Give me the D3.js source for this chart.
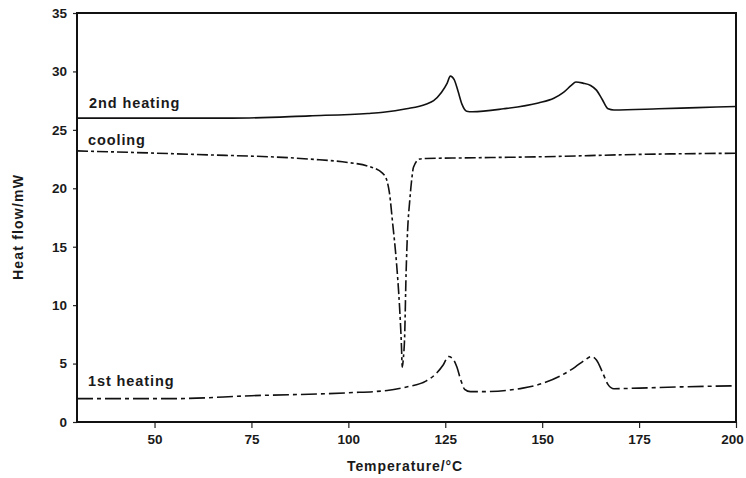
<!DOCTYPE html>
<html><head><meta charset="utf-8">
<script src="https://cdn.jsdelivr.net/npm/d3@7"></script>
<style>body{margin:0;background:#fff}svg{display:block}</style>
</head><body><svg id="c" width="746" height="478"></svg>
<script>
const xTicks = [50, 75, 100, 125, 150, 175, 200];
const yTicks = [0, 5, 10, 15, 20, 25, 30, 35];
const seriesNames = ["2nd heating", "cooling", "1st heating"];
const heat2T = [30,70,90,105,109,115,120,122,124,125.5,126.3,127.3,128.3,129.3,130.5,132,140,149,153,155.5,157.5,158.7,160.5,162.5,164,165.5,167,168.5,180,190,200];
const heat2V = [26.0,26.0,26.2,26.4,26.5,26.8,27.2,27.5,28.2,29.0,29.6,29.3,28.3,27.2,26.6,26.55,26.8,27.3,27.7,28.2,28.8,29.1,29.0,28.8,28.4,27.6,26.8,26.7,26.8,26.9,27.0];
const coolT = [30,60,90,100,105,108.8,110,110.6,111.4,112.4,113.2,113.7,113.9,114.2,114.5,114.9,115.3,115.8,116.3,116.8,118.4,120,130,150,175,200];
const coolV = [23.2,22.9,22.5,22.2,21.9,21.3,20.6,19.6,17.1,13.7,9.9,6.5,4.7,5.5,7.1,12.8,16.5,18.8,20.6,21.8,22.5,22.55,22.6,22.7,22.9,23.0];
const heat1T = [30,55,75,100,110,115,120,122.5,124.5,125.8,127,128,129,130,131.5,135,145,150,155,158.5,161,162.7,164,165.5,167,168.5,175,185,200];
const heat1V = [2.0,2.0,2.25,2.5,2.7,3.0,3.5,4.1,4.9,5.6,5.4,4.7,3.6,2.8,2.6,2.6,2.9,3.3,4.0,4.7,5.3,5.6,5.3,4.3,3.2,2.85,2.9,3.0,3.1];

const svg = d3.select("#c");
const L = 77, R = 736, T = 13, B = 422;
const x = d3.scaleLinear().domain([30, 200]).range([L, R]);
const y = d3.scaleLinear().domain([0, 35]).range([B, T]);
const font = "Arial, 'Liberation Sans', sans-serif";

// axes
const xAxis = svg.append("g").attr("transform", `translate(0,${B})`)
  .call(d3.axisBottom(x).tickValues(xTicks).tickSize(6).tickPadding(6));
const yAxis = svg.append("g").attr("transform", `translate(${L},0)`)
  .call(d3.axisLeft(y).tickValues(yTicks).tickSize(4).tickPadding(6));
[xAxis, yAxis].forEach(g => {
  g.select(".domain").remove();
  g.selectAll("line").attr("stroke", "#222").attr("stroke-width", 1.2);
  g.selectAll("text").attr("font-family", font).attr("font-size", 13.5)
    .attr("fill", "#1a1a1a").attr("font-weight", "bold");
});
xAxis.selectAll(".tick text").filter(d => d === 200).attr("dx", -4);

// frame
svg.append("rect").attr("x", L).attr("y", T).attr("width", R - L).attr("height", B - T)
  .attr("fill", "none").attr("stroke", "#111").attr("stroke-width", 2);

const line = d3.line().x(d => x(d[0])).y(d => y(d[1])).curve(d3.curveMonotoneX);
const series = [
  {pts: d3.zip(heat2T, heat2V), dash: null},
  {pts: d3.zip(coolT, coolV), dash: "11,3,3,3"},
  {pts: d3.zip(heat1T, heat1V), dash: "16,4,4,4"}
];
series.forEach(s => {
  svg.append("path").attr("d", line(s.pts)).attr("fill", "none")
    .attr("stroke", "#111").attr("stroke-width", 1.6)
    .attr("stroke-dasharray", s.dash);
});

// series labels
const labPos = [[89, 108], [88, 145], [88, 386]];
seriesNames.forEach((n, i) => {
  svg.append("text").attr("x", labPos[i][0]).attr("y", labPos[i][1])
    .attr("font-family", font).attr("font-size", 14.5).attr("font-weight", "bold")
    .attr("letter-spacing", 0.9).attr("fill", "#1a1a1a").text(n);
});

// axis titles
svg.append("text").attr("x", 405).attr("y", 471).attr("text-anchor", "middle")
  .attr("font-family", font).attr("font-size", 14).attr("font-weight", "bold")
  .attr("letter-spacing", 0.9).attr("fill", "#1a1a1a").text("Temperature/°C");
svg.append("text").attr("transform", "translate(23,227) rotate(-90)").attr("text-anchor", "middle")
  .attr("font-family", font).attr("font-size", 14).attr("font-weight", "bold")
  .attr("letter-spacing", 1.2).attr("fill", "#1a1a1a").text("Heat flow/mW");
</script></body></html>
